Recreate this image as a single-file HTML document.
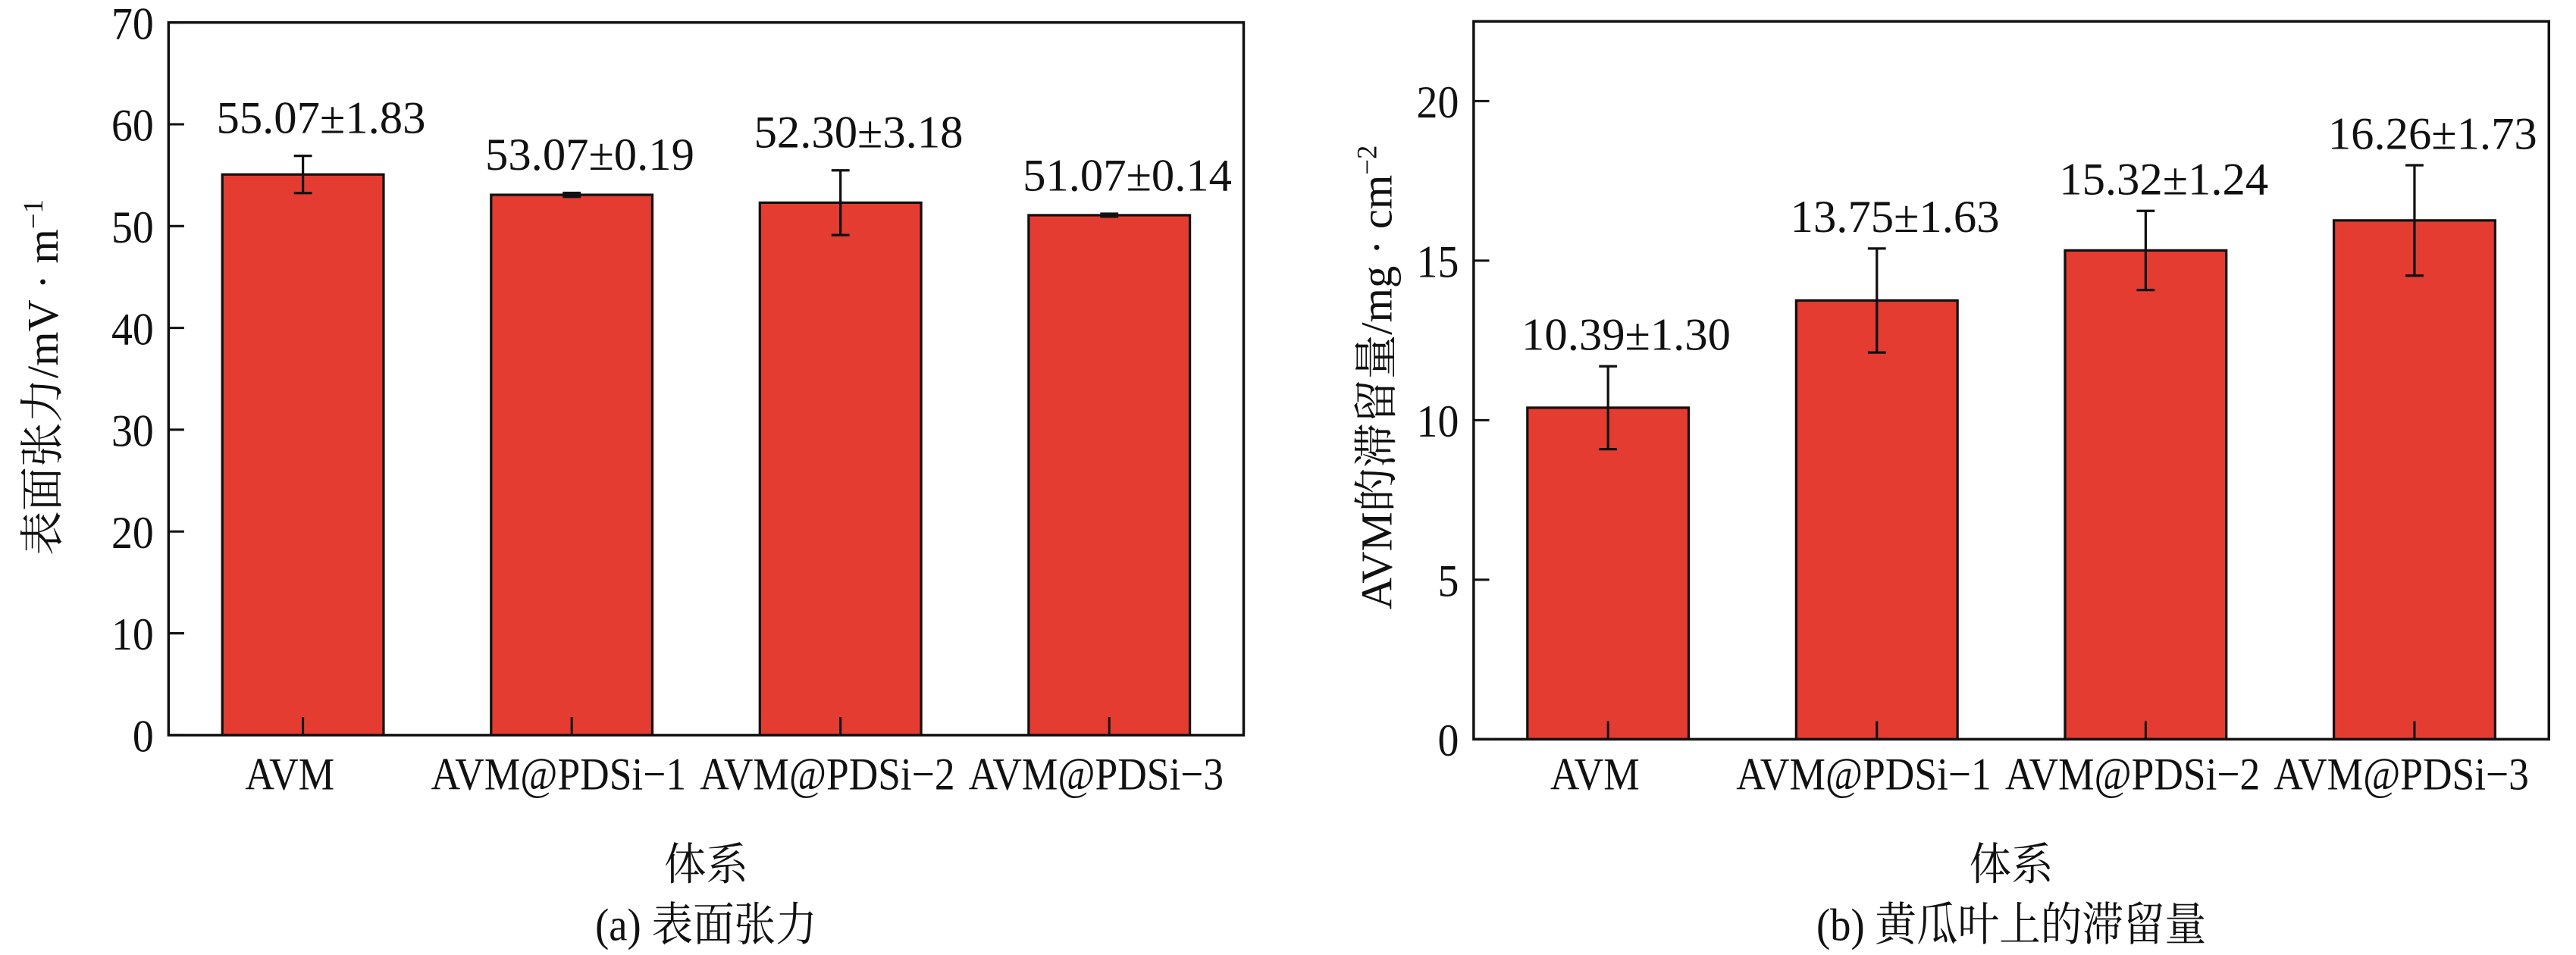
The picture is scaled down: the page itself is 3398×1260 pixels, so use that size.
<!DOCTYPE html>
<html><head><meta charset="utf-8"><style>
html,body{margin:0;padding:0;background:#fff}
svg{display:block}
text{font-family:"Liberation Serif","Noto Serif CJK SC","Noto Sans CJK SC",serif;fill:#111}
</style></head><body>
<svg id="fig" width="3398" height="1260" viewBox="0 0 1568 582" preserveAspectRatio="none"></svg>
<script>
const categories = ["AVM","AVM@PDSi\u22121","AVM@PDSi\u22122","AVM@PDSi\u22123"];
const tensionValues = [55.07,53.07,52.30,51.07];
const tensionErrors = [1.83,0.19,3.18,0.14];
const tensionLabels = ["55.07\u00b11.83","53.07\u00b10.19","52.30\u00b13.18","51.07\u00b10.14"];
const tensionTicks = [0,10,20,30,40,50,60,70];
const retentionValues = [10.39,13.75,15.32,16.26];
const retentionErrors = [1.30,1.63,1.24,1.73];
const retentionLabels = ["10.39\u00b11.30","13.75\u00b11.63","15.32\u00b11.24","16.26\u00b11.73"];
const retentionTicks = [0,5,10,15,20];

const NS="http://www.w3.org/2000/svg";
const svg=document.getElementById('fig');
function mk(tag,attrs,parent){const e=document.createElementNS(NS,tag);for(const k in attrs)e.setAttribute(k,attrs[k]);(parent||svg).appendChild(e);return e;}
function txt(s,x,y,size,anchor,sx,parent){const t=mk('text',{transform:`translate(${x},${y}) scale(${sx},1)`,'font-size':size,'text-anchor':anchor},parent);t.textContent=s;return t;}

function panel(cfg){
  const g=mk('g',{});
  
  
  const {L,R,T,B,ymax}=cfg;
  const y=v=>B-(v/ymax)*(B-T);
  const n=categories.length;
  const step=(R-L)/n;
  const xc=i=>L+(i+0.5)*step;
  const bw=step*0.6;
  cfg.values.forEach((v,i)=>{
    const r=mk('rect',{x:xc(i)-bw/2,y:y(v),width:bw,height:B-y(v),fill:'#E43C31',stroke:'#111','stroke-width':1.5},g);
    
    
    const e=cfg.errors[i];
    const eg=mk('g',{stroke:'#111','stroke-width':1.5},g);
    
    
    mk('line',{x1:xc(i),x2:xc(i),y1:y(v-e),y2:y(v+e)},eg);
    mk('line',{x1:xc(i)-5.5,x2:xc(i)+5.5,y1:y(v-e),y2:y(v-e)},eg);
    mk('line',{x1:xc(i)-5.5,x2:xc(i)+5.5,y1:y(v+e),y2:y(v+e)},eg);
    const lab=txt(cfg.labels[i],xc(i)+11,y(v+e)-cfg.labOff,28,'middle',1,g);
    
    
    mk('line',{x1:xc(i),x2:xc(i),y1:B,y2:B-11,stroke:'#111','stroke-width':1.4},g);
    const cl=txt(categories[i],xc(i)-8,481,28,'middle',0.88,g);
    
    
  });
  const fr=mk('rect',{x:L,y:T,width:R-L,height:B-T,fill:'none',stroke:'#111','stroke-width':1.6},g);
  
  
  cfg.ticks.forEach(t=>{
    mk('line',{x1:L,x2:L+9.5,y1:y(t),y2:y(t),stroke:'#111','stroke-width':1.4},g);
    const tl=txt(String(t),L-9,y(t)+10,28,'end',0.92,g);
    
    
  });
  const yt=mk('text',{transform:`translate(${cfg.ytx},230) rotate(-90)`,'font-size':27,'text-anchor':'middle'},g);
  yt.innerHTML=cfg.ytitle;
  
  
  const xt=txt('体系',(L+R)/2,536,27,'middle',0.95,g);
  
  
  const cap=txt(cfg.caption,(L+R)/2,573,28,'middle',0.9,g);
  
  
}
panel({name:'panel-a-surface-tension',L:102.6,R:757,T:13.7,B:448,ymax:70,
  values:tensionValues,errors:tensionErrors,labels:tensionLabels,ticks:tensionTicks,labOff:14,ytx:35,
  ytitle:'表面张力/mV · m<tspan baseline-shift="super" font-size="17">−1</tspan>',caption:'(a) 表面张力'});
panel({name:'panel-b-retention',L:897,R:1551.5,T:13,B:450.5,ymax:22.5,
  values:retentionValues,errors:retentionErrors,labels:retentionLabels,ticks:retentionTicks,labOff:10,ytx:847,
  ytitle:'AVM的滞留量/mg · cm<tspan baseline-shift="super" font-size="17">−2</tspan>',caption:'(b) 黄瓜叶上的滞留量'});
</script>
</body></html>
